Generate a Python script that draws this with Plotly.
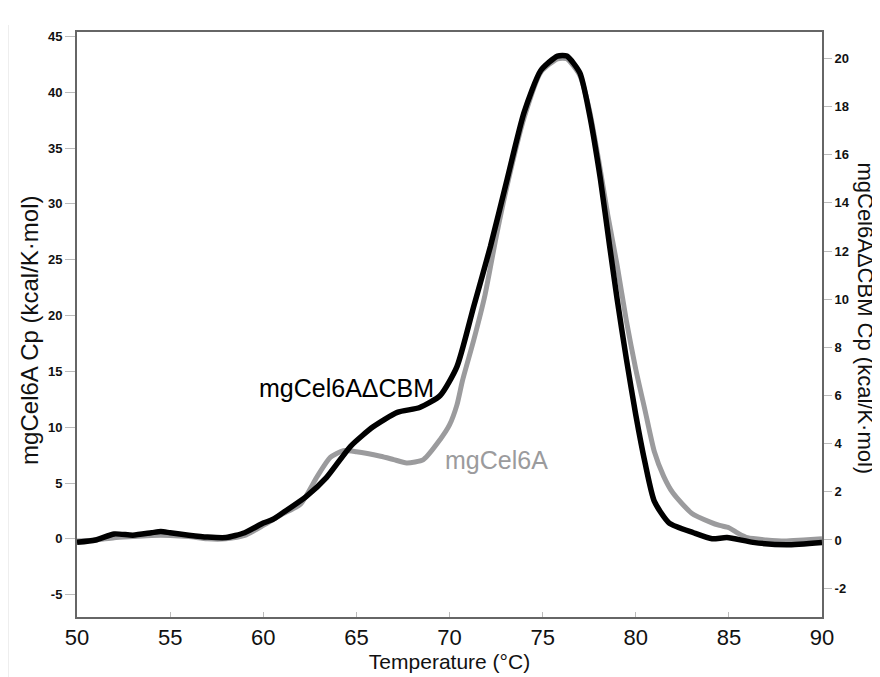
import plotly.graph_objects as go

# mgCel6A, read against the left axis
temp_a = [50, 51, 52, 53, 54, 55, 56, 57, 58, 59, 60, 61, 62, 62.9, 63.6, 64.3, 65, 66.3, 67,
          67.7, 68.6, 69.5, 70, 70.4, 70.7, 71.3, 71.9, 72.5, 73.1, 74, 74.9, 75.8, 76.3, 77,
          77.5, 78, 78.5, 79, 79.5, 80, 80.5, 81, 81.5, 82, 83, 84, 84.5, 85, 85.5, 86, 87, 88, 89, 90]
cp_a = [-0.2, -0.1, 0.1, 0.2, 0.3, 0.3, 0.2, 0.0, 0.0, 0.3, 1.2, 2.2, 3.1, 5.6, 7.3, 7.9, 7.8, 7.4, 7.1,
        6.8, 7.1, 8.9, 10.2, 12.0, 14.2, 17.8, 21.8, 27.0, 31.7, 37.7, 41.8, 43.0, 43.0, 41.5,
        38.5, 34.0, 29.0, 24.5, 19.5, 15.2, 11.5, 7.8, 5.6, 4.1, 2.3, 1.5, 1.2, 1.0, 0.5, 0.1, -0.1, -0.2, -0.1, 0.0]

# mgCel6A-dCBM, read against the right axis
temp_b = [50, 51, 52, 53, 54, 54.5, 55, 56, 57, 58, 59, 60, 60.5, 61, 62.3, 63.4, 64.7, 65.9, 67.2,
          68.4, 69.5, 70.4, 71.3, 72.2, 73.1, 74, 74.9, 75.8, 76.3, 77, 77.5, 78.1, 78.6, 79,
          79.5, 80, 80.5, 81, 81.8, 83.1, 84.1, 84.9, 86.3, 88.1, 90]
cp_b = [-0.1, 0.0, 0.25, 0.2, 0.3, 0.35, 0.3, 0.2, 0.12, 0.1, 0.3, 0.7, 0.85, 1.1, 1.8, 2.6, 3.9, 4.7, 5.3,
        5.5, 6.0, 7.2, 9.7, 12.2, 15.0, 17.75, 19.5, 20.1, 20.1, 19.4, 17.75, 15.0, 12.2, 10.0,
        7.5, 5.2, 3.2, 1.6, 0.7, 0.3, 0.05, 0.1, -0.1, -0.2, -0.1]

x_ticks = [50, 55, 60, 65, 70, 75, 80, 85, 90]
left_ticks = [-5, 0, 5, 10, 15, 20, 25, 30, 35, 40, 45]
right_ticks = [-2, 0, 2, 4, 6, 8, 10, 12, 14, 16, 18, 20]

font = "Liberation Sans, Arial, sans-serif"
frame = "#666666"

fig = go.Figure()
fig.add_trace(go.Scatter(x=temp_a, y=cp_a, mode="lines", name="mgCel6A",
                         line=dict(color="#9b9b9d", width=5, shape="spline", smoothing=0.6)))
fig.add_trace(go.Scatter(x=temp_b, y=cp_b, mode="lines", name="mgCel6AΔCBM", yaxis="y2",
                         line=dict(color="#000000", width=5.5, shape="spline", smoothing=0.6)))

# page body has an 8px margin, so the figure is sized to fit inside the window
fig.update_layout(
    width=872, height=669,
    margin=dict(l=69, r=58, t=24, b=60, autoexpand=False),
    paper_bgcolor="white", plot_bgcolor="white",
    showlegend=False,
    font=dict(family=font, color="#111111"),
    xaxis=dict(range=[50, 90], tickvals=x_ticks, ticks="inside", ticklen=5, tickcolor="#bbbbbb",
               showgrid=False, zeroline=False, showline=True, linecolor=frame, linewidth=2,
               mirror=True, automargin=False, tickfont=dict(size=22, family=font),
               title=dict(text="Temperature (°C)", font=dict(size=21, family=font), standoff=0)),
    yaxis=dict(range=[-7, 45.4], tickvals=left_ticks, ticktext=[str(t) for t in left_ticks],
               ticks="outside", ticklen=10, tickcolor="#bbbbbb", automargin=False,
               showgrid=False, zeroline=False, showline=True, linecolor=frame, linewidth=2,
               tickfont=dict(size=13, family=font, weight="bold")),
    yaxis2=dict(range=[-3.2, 21.1], tickvals=right_ticks, ticktext=[str(t) for t in right_ticks],
                overlaying="y", side="right", automargin=False,
                ticks="outside", ticklen=8, tickcolor="#bbbbbb",
                showgrid=False, zeroline=False, showline=True, linecolor=frame, linewidth=2,
                tickfont=dict(size=13, family=font, weight="bold")),
)

# axis titles as rotated annotations so both can be placed exactly
fig.add_annotation(x=-0.0637, y=0.49, xref="paper", yref="paper", xanchor="center", yanchor="middle",
                   showarrow=False, textangle=-90,
                   text="mgCel6A Cp (kcal/K·mol)", font=dict(size=24, family=font, color="#111111"))
fig.add_annotation(x=1.058, y=0.51, xref="paper", yref="paper", xanchor="center", yanchor="middle",
                   showarrow=False, textangle=90,
                   text="mgCel6AΔCBM Cp (kcal/K·mol)", font=dict(size=22, family=font, color="#111111"))
fig.add_annotation(x=64.45, y=(617 - 388) / 585, xref="x", yref="paper", showarrow=False,
                   xanchor="center", yanchor="middle",
                   text="mgCel6AΔCBM", font=dict(size=25, family=font, color="#000000"))
fig.add_annotation(x=72.5, y=(617 - 460) / 585, xref="x", yref="paper", showarrow=False,
                   xanchor="center", yanchor="middle",
                   text="mgCel6A", font=dict(size=25, family=font, color="#9b9b9d"))

# thin grey rule at the far left of the picture
fig.add_shape(type="line", xref="paper", yref="paper", x0=-0.0926, x1=-0.0926, y0=-0.11, y1=1.012,
              line=dict(color="#dddddd", width=1))

fig.write_html("out.html")
